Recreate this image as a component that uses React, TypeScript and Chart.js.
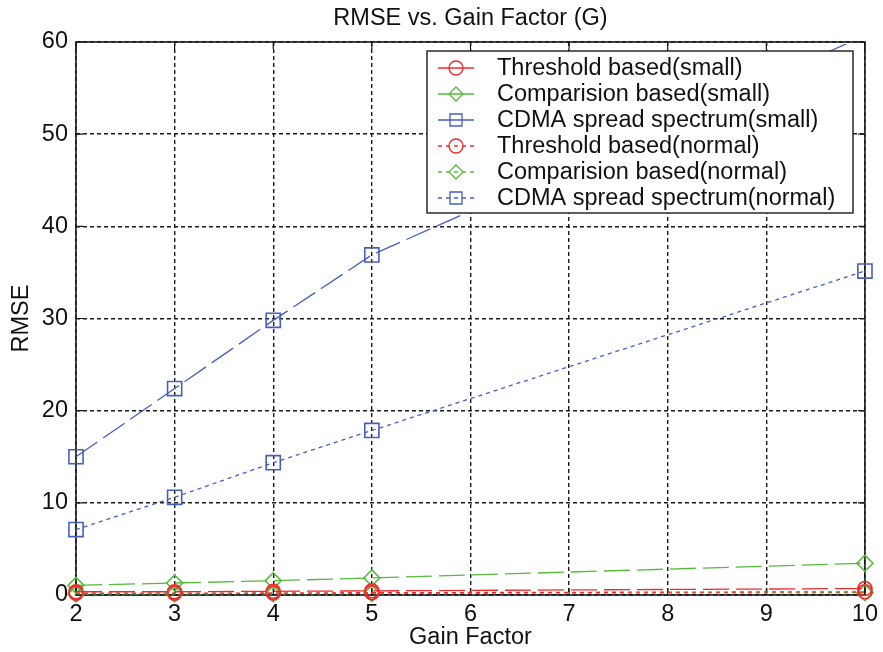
import React, { useEffect, useRef } from "react";
import { Chart, registerables } from "chart.js";

Chart.register(...registerables);

const gainFactors = [2, 3, 4, 5, 10];
const thresholdSmall = [0.35, 0.35, 0.4, 0.45, 0.7];
const comparisonSmall = [1.05, 1.3, 1.55, 1.85, 3.45];
const cdmaSmall = [15.0, 22.4, 29.8, 36.9, 60.7];
const thresholdNormal = [0.2, 0.2, 0.22, 0.25, 0.35];
const comparisonNormal = [0.12, 0.13, 0.15, 0.17, 0.25];
const cdmaNormal = [7.1, 10.6, 14.35, 17.85, 35.15];

const xTicks = [2, 3, 4, 5, 6, 7, 8, 9, 10];
const yTicks = [0, 10, 20, 30, 40, 50, 60];

const RED = "#ee2b2b";
const GREEN = "#55bb3a";
const BLUE = "#4560bb";
const FONT = "'Liberation Sans', Arial, sans-serif";
const FS = 23.5;
const SOLIDISH = [26, 7];
const DOTTED = [4, 4];

type Series = { label: string; data: number[]; color: string; style: string; dash: number[]; order: number };

const series: Series[] = [
  { label: "Threshold based(small)", data: thresholdSmall, color: RED, style: "circle", dash: SOLIDISH, order: 2 },
  { label: "Comparision based(small)", data: comparisonSmall, color: GREEN, style: "rectRot", dash: SOLIDISH, order: 3 },
  { label: "CDMA spread spectrum(small)", data: cdmaSmall, color: BLUE, style: "rect", dash: SOLIDISH, order: 4 },
  { label: "Threshold based(normal)", data: thresholdNormal, color: RED, style: "circle", dash: DOTTED, order: 1 },
  { label: "Comparision based(normal)", data: comparisonNormal, color: GREEN, style: "rectRot", dash: DOTTED, order: 6 },
  { label: "CDMA spread spectrum(normal)", data: cdmaNormal, color: BLUE, style: "rect", dash: DOTTED, order: 0 },
];

function drawMarker(ctx: CanvasRenderingContext2D, style: string, x: number, y: number, r: number) {
  ctx.beginPath();
  if (style === "circle") {
    ctx.arc(x, y, r, 0, Math.PI * 2);
  } else if (style === "rectRot") {
    ctx.moveTo(x - r, y);
    ctx.lineTo(x, y - r);
    ctx.lineTo(x + r, y);
    ctx.lineTo(x, y + r);
    ctx.closePath();
  } else {
    ctx.rect(x - r, y - r, 2 * r, 2 * r);
  }
  ctx.stroke();
}

const matlabPlugin = {
  id: "matlabDecor",
  beforeDatasetsDraw(chart: any) {
    const { ctx, chartArea, scales } = chart;
    const { left, right, top, bottom } = chartArea;
    ctx.save();
    ctx.setLineDash([]);
    ctx.strokeStyle = "#1a1a1a";
    ctx.lineWidth = 1.6;
    ctx.strokeRect(left, top, right - left, bottom - top);
    ctx.lineWidth = 1.2;
    const tl = 7;
    xTicks.forEach((v) => {
      const px = scales.x.getPixelForValue(v);
      ctx.beginPath();
      ctx.moveTo(px, bottom);
      ctx.lineTo(px, bottom - tl);
      ctx.moveTo(px, top);
      ctx.lineTo(px, top + tl);
      ctx.stroke();
    });
    yTicks.forEach((v) => {
      const py = scales.y.getPixelForValue(v);
      ctx.beginPath();
      ctx.moveTo(left, py);
      ctx.lineTo(left + tl, py);
      ctx.moveTo(right, py);
      ctx.lineTo(right - tl, py);
      ctx.stroke();
    });
    ctx.restore();
  },
  afterDraw(chart: any) {
    const { ctx, chartArea } = chart;
    const { left, right } = chartArea;
    ctx.save();
    ctx.fillStyle = "#111";
    ctx.font = `${FS}px ${FONT}`;
    ctx.textAlign = "center";
    ctx.textBaseline = "middle";
    ctx.fillText("RMSE vs. Gain Factor (G)", (left + right) / 2, 19);
    // legend
    const lx = 427, ly = 51, lw = 426, lh = 162;
    ctx.fillStyle = "#fff";
    ctx.fillRect(lx, ly, lw, lh);
    ctx.strokeStyle = "#1a1a1a";
    ctx.lineWidth = 1.4;
    ctx.strokeRect(lx, ly, lw, lh);
    const rowsY = [68, 94, 120, 146, 172, 198];
    series.forEach((s, i) => {
      const y = rowsY[i];
      ctx.strokeStyle = s.color;
      ctx.lineWidth = 1.3;
      ctx.setLineDash(s.dash === DOTTED ? [4, 4] : []);
      ctx.beginPath();
      ctx.moveTo(438, y);
      ctx.lineTo(474, y);
      ctx.stroke();
      ctx.setLineDash([]);
      drawMarker(ctx, s.style, 456, y, s.style === "rect" ? 6 : 7);
      ctx.fillStyle = "#111";
      ctx.font = `${FS}px ${FONT}`;
      ctx.textAlign = "left";
      ctx.textBaseline = "middle";
      ctx.fillText(s.label, 497, y + 1);
    });
    ctx.restore();
  },
};

export default function App() {
  const ref = useRef<HTMLCanvasElement | null>(null);
  useEffect(() => {
    if (!ref.current) return;
    const chart = new Chart(ref.current, {
      type: "line",
      data: {
        datasets: series.map((s) => ({
          label: s.label,
          data: gainFactors.map((g, i) => ({ x: g, y: s.data[i] })),
          borderColor: s.color,
          backgroundColor: "transparent",
          borderWidth: 1.3,
          borderDash: s.dash,
          pointStyle: s.style as any,
          pointRadius: s.style === "rect" ? 10 : s.style === "circle" ? 7 : 8,
          pointBorderWidth: 1.6,
          pointBorderColor: s.color,
          pointBackgroundColor: "transparent",
          tension: 0,
          order: s.order,
          clip: { left: 14, right: 14, top: -2, bottom: 14 } as any,
        })),
      },
      options: {
        responsive: false,
        animation: false,
        events: [],
        layout: { padding: { left: 0, right: 16, top: 42, bottom: 0 } },
        plugins: { legend: { display: false }, tooltip: { enabled: false }, title: { display: false } },
        scales: {
          x: {
            type: "linear",
            min: 2,
            max: 10,
            afterBuildTicks: (scale: any) => {
              scale.ticks = xTicks.map((v) => ({ value: v }));
            },
            afterFit: (scale: any) => {
              scale.height = 57;
            },
            grid: { color: "#1a1a1a", lineWidth: 1.4, drawTicks: false },
            border: { display: false, dash: [4, 3] },
            ticks: { color: "#111", font: { family: FONT, size: FS }, padding: 5, maxRotation: 0 },
            title: {
              display: true,
              text: "Gain Factor",
              color: "#111",
              font: { family: FONT, size: FS },
              padding: { top: 0, bottom: 0 },
            },
          },
          y: {
            type: "linear",
            min: 0,
            max: 60,
            afterBuildTicks: (scale: any) => {
              scale.ticks = yTicks.map((v) => ({ value: v }));
            },
            afterFit: (scale: any) => {
              scale.width = 76;
            },
            grid: { color: "#1a1a1a", lineWidth: 1.4, drawTicks: false },
            border: { display: false, dash: [4, 3] },
            ticks: { color: "#111", font: { family: FONT, size: FS }, padding: 8 },
            title: {
              display: true,
              text: "RMSE",
              color: "#111",
              font: { family: FONT, size: FS },
              padding: { top: 7, bottom: 0 },
            },
          },
        },
      },
      plugins: [matlabPlugin],
    });
    return () => chart.destroy();
  }, []);
  return (
    <div style={{ position: "fixed", left: 0, top: 0, width: 883, height: 652, background: "#fff" }}>
      <canvas ref={ref} width={883} height={652} style={{ display: "block" }} />
    </div>
  );
}
